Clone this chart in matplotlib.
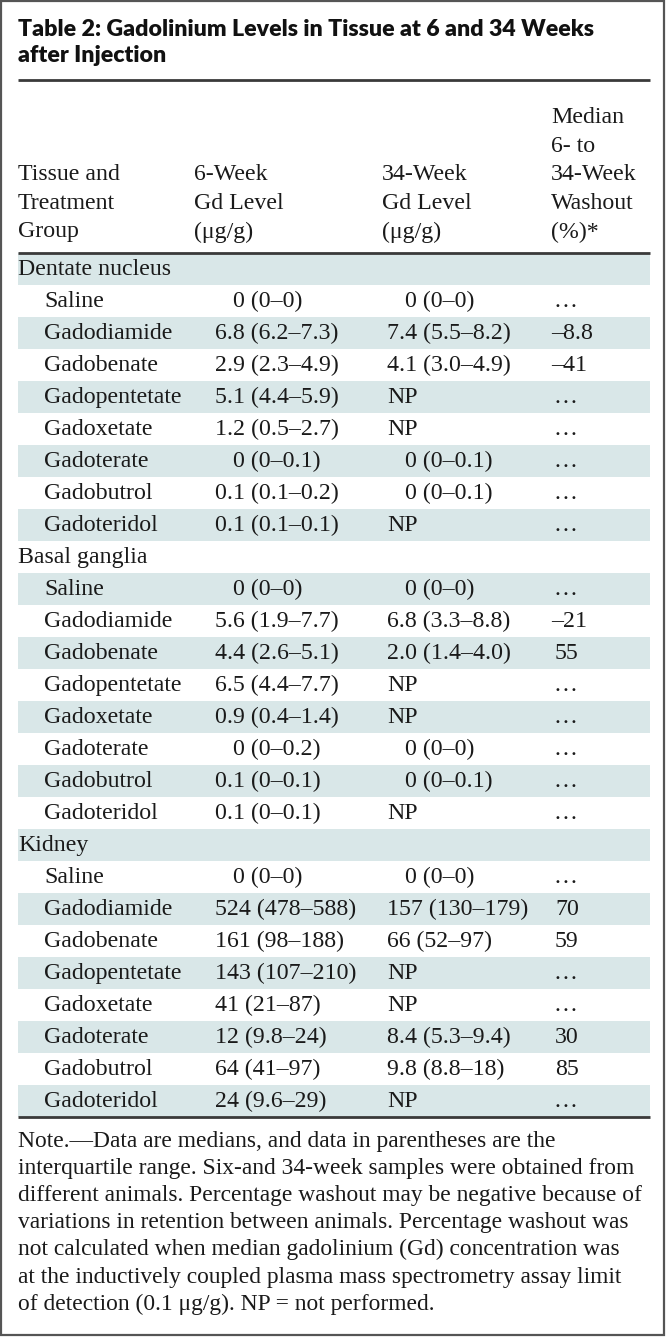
import matplotlib
matplotlib.use("Agg")
import matplotlib.pyplot as plt
from matplotlib.patches import Rectangle

# ---------------- data ----------------
title_lines = ["Table 2: Gadolinium Levels in Tissue at 6 and 34 Weeks",
               "after Injection"]
header_cols = [
    ["Tissue and", "Treatment", "Group"],
    ["6-Week", "Gd Level", "(\u03bcg/g)"],
    ["34-Week", "Gd Level", "(\u03bcg/g)"],
    ["Median", "6- to", "34-Week", "Washout", "(%)*"],
]
tissues = ["Dentate nucleus", "Basal ganglia", "Kidney"]
groups = ["Saline", "Gadodiamide", "Gadobenate", "Gadopentetate",
          "Gadoxetate", "Gadoterate", "Gadobutrol", "Gadoteridol"]
week6 = {
    "Dentate nucleus": ["0 (0\u20130)", "6.8 (6.2\u20137.3)", "2.9 (2.3\u20134.9)", "5.1 (4.4\u20135.9)",
                        "1.2 (0.5\u20132.7)", "0 (0\u20130.1)", "0.1 (0.1\u20130.2)", "0.1 (0.1\u20130.1)"],
    "Basal ganglia": ["0 (0\u20130)", "5.6 (1.9\u20137.7)", "4.4 (2.6\u20135.1)", "6.5 (4.4\u20137.7)",
                      "0.9 (0.4\u20131.4)", "0 (0\u20130.2)", "0.1 (0\u20130.1)", "0.1 (0\u20130.1)"],
    "Kidney": ["0 (0\u20130)", "524 (478\u2013588)", "161 (98\u2013188)", "143 (107\u2013210)",
               "41 (21\u201387)", "12 (9.8\u201324)", "64 (41\u201397)", "24 (9.6\u201329)"],
}
week34 = {
    "Dentate nucleus": ["0 (0\u20130)", "7.4 (5.5\u20138.2)", "4.1 (3.0\u20134.9)", "NP",
                        "NP", "0 (0\u20130.1)", "0 (0\u20130.1)", "NP"],
    "Basal ganglia": ["0 (0\u20130)", "6.8 (3.3\u20138.8)", "2.0 (1.4\u20134.0)", "NP",
                      "NP", "0 (0\u20130)", "0 (0\u20130.1)", "NP"],
    "Kidney": ["0 (0\u20130)", "157 (130\u2013179)", "66 (52\u201397)", "NP",
               "NP", "8.4 (5.3\u20139.4)", "9.8 (8.8\u201318)", "NP"],
}
washout = {
    "Dentate nucleus": ["\u2026", "\u20138.8", "\u201341", "\u2026", "\u2026", "\u2026", "\u2026", "\u2026"],
    "Basal ganglia": ["\u2026", "\u201321", "55", "\u2026", "\u2026", "\u2026", "\u2026", "\u2026"],
    "Kidney": ["\u2026", "70", "59", "\u2026", "\u2026", "30", "85", "\u2026"],
}
note_lines = [
    "Note.\u2014Data are medians, and data in parentheses are the",
    "interquartile range. Six-and 34-week samples were obtained from",
    "different animals. Percentage washout may be negative because of",
    "variations in retention between animals. Percentage washout was",
    "not calculated when median gadolinium (Gd) concentration was",
    "at the inductively coupled plasma mass spectrometry assay limit",
    "of detection (0.1 \u03bcg/g). NP = not performed.",
]

# ---------------- layout ----------------
W, H = 666, 1337
fig = plt.figure(figsize=(W / 100, H / 100), dpi=100)
ax = fig.add_axes([0, 0, 1, 1])
ax.set_xlim(0, W)
ax.set_ylim(H, 0)
ax.axis("off")

serif = ["Liberation Serif", "DejaVu Serif"]
sans_bold = ["Lato", "DejaVu Sans"]
body_fs = 17.2
note_fs = 16.95
shade = "#d9e7e8"
rule_c = "#3a3a3a"
txt_c = "#1a1a1a"

x_left, x_right = 18, 650
col_x = [18, 194, 382, 551]
val_x = [215, 387]
zero_shift = 18
indent_x = 44

# frame
ax.add_patch(Rectangle((1, 1), W - 3, H - 3, fill=False, edgecolor="#555555", lw=1.6))

# title
for i, t in enumerate(title_lines):
    ax.text(x_left, 29 + 27 * i, t, family=sans_bold, fontweight="heavy",
            fontsize=16.7, va="center", ha="left", color="#111111")

# rules
ax.plot([x_left, x_right], [80, 80], color=rule_c, lw=2.0, solid_capstyle="butt")
ax.plot([x_left, x_right], [253, 253], color=rule_c, lw=2.0, solid_capstyle="butt")

# header
hdr_line = 28.6
hdr_bottom = 232
for ci, lines in enumerate(header_cols):
    n = len(lines)
    for li, t in enumerate(lines):
        y = hdr_bottom - hdr_line * (n - 1 - li)
        ax.text(col_x[ci], y, t, family=serif, fontsize=body_fs,
                va="center", ha="left", color=txt_c)

# body
row_h = 32
y0 = 253
r = 0
for tissue in tissues:
    rows = [(tissue, None, None, None, True)]
    for gi, g in enumerate(groups):
        rows.append((g, week6[tissue][gi], week34[tissue][gi], washout[tissue][gi], False))
    for label, v6, v34, wo, is_head in rows:
        top = y0 + r * row_h
        if r % 2 == 0:
            ax.add_patch(Rectangle((x_left, top), x_right - x_left, row_h,
                                   facecolor=shade, edgecolor="none", zorder=0))
        yc = top + row_h / 2 + 0.5
        ax.text(x_left if is_head else indent_x, yc, label, family=serif,
                fontsize=body_fs, va="center", ha="left", color=txt_c)
        if not is_head:
            for vx, v in zip(val_x, (v6, v34)):
                xx = vx + (zero_shift if v.startswith("0 (") else 0)
                ax.text(xx, yc, v, family=serif, fontsize=body_fs,
                        va="center", ha="left", color=txt_c)
            xx = col_x[3] + (2 if wo == "\u2026" else (0 if wo.startswith("\u2013") else 4))
            ax.text(xx, yc, wo, family=serif, fontsize=body_fs,
                    va="center", ha="left", color=txt_c)
        r += 1

y_end = y0 + r * row_h
ax.plot([x_left, x_right], [y_end, y_end], color=rule_c, lw=2.0, solid_capstyle="butt")

# note
for i, t in enumerate(note_lines):
    ax.text(x_left, 1141 + 27.2 * i, t, family=serif, fontsize=note_fs,
            va="center", ha="left", color=txt_c)

fig.savefig("out.png", dpi=100)
